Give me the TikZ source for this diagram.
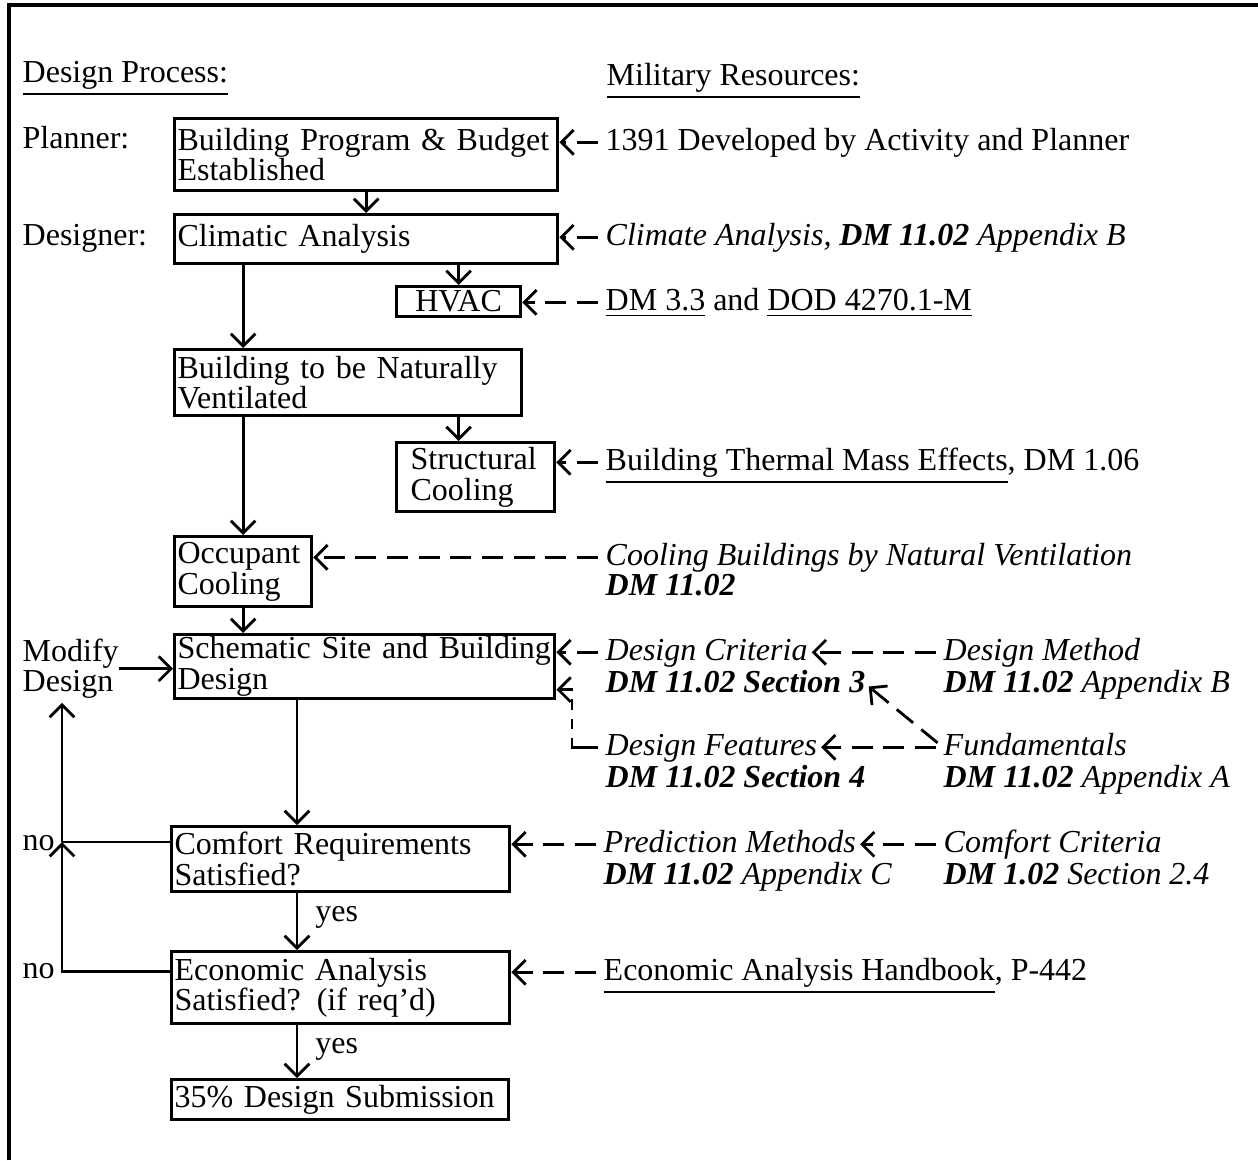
\documentclass[tikz,border=0pt]{standalone}
\usepackage{fontspec}
\setmainfont{Liberation Serif}
\usetikzlibrary{arrows.meta}
\tikzset{
  every node/.style={font=\fontsize{9.1pt}{8.7pt}\selectfont},
  box/.style={draw, line width=0.9pt, anchor=north west, align=left, inner xsep=0.03cm, inner ysep=0pt},
  res/.style={anchor=base west, inner sep=0pt, text height=6.3pt, text depth=1.9pt},
  lbl/.style={anchor=base west, inner sep=0pt},
  arrow/.style={-{Straight Barb[length=3.5pt,width=7pt]}, line width=0.8pt},
  refarrow/.style={arrow, dash pattern=on 6pt off 3pt, shorten <=2pt}
}

\begin{document}
\begin{tikzpicture}[x=0.01cm, y=-0.01cm]
\useasboundingbox (0,0) rectangle (1258,1160);
% frame
\draw[line width=1pt] (9,1160) -- (9,5) -- (1258,5);

% 1. Headings and roles
\node[lbl] (hdproc) at (22,82) {\underline{Design Process:}};
\node[lbl] (hdmil) at (606,85) {\underline{Military Resources:}};
\node[lbl] (planner) at (22,148) {Planner:};
\node[lbl] (designer) at (22,245) {Designer:};
\node[lbl, anchor=north west, align=left] (modify) at (22,638) {Modify\\Design};
\node[lbl] (no1) at (22,850) {no};
\node[lbl] (no2) at (22,978) {no};

% 2. Design process chain
\node[box, text width=3.77cm, minimum height=0.72cm] (budget) at (173,117) {Building Program \& Budget\\Established};
\node[box, text width=3.77cm, minimum height=0.49cm] (clim) at (173,213) {Climatic Analysis};
\node[box, align=center, minimum width=1.24cm, minimum height=0.30cm] (hvac) at (395,285) {HVAC};
\node[box, text width=3.41cm, minimum height=0.66cm] (natvent) at (173,348) {Building to be Naturally\\Ventilated};
\node[box, inner xsep=0.14cm, text width=1.30cm, minimum height=0.69cm] (struct) at (395,441) {Structural\\Cooling};
\node[box, text width=1.31cm, minimum height=0.70cm] (occ) at (173,535) {Occupant\\Cooling};
\node[box, text width=3.74cm, minimum height=0.64cm] (sched) at (173,633) {\mbox{Schematic Site and Building}\\Design};
\node[box, text width=3.32cm, minimum height=0.65cm] (comfort) at (170,825) {Comfort Requirements\\Satisfied?};
\node[box, text width=3.32cm, minimum height=0.72cm] (econ) at (170,950) {Economic Analysis\\Satisfied? (if req'd)};
\node[box, text width=3.31cm, minimum height=0.40cm] (submit) at (170,1078) {35\% Design Submission};

% 3. Military resources
\node[res] (r1) at (605,150) {1391 Developed by Activity and Planner};
\node[res] (r2) at (605,245) {\textit{Climate Analysis, \textbf{DM 11.02} Appendix B}};
\node[res] (r3) at (605,310) {\underline{DM 3.3} and \underline{DOD 4270.1-M}};
\node[res] (r4) at (605,470) {\underline{Building Thermal Mass Effects}, DM 1.06};
\node[res] (r5) at (605,565) {\textit{Cooling Buildings by Natural Ventilation}};
\node[res] (r5b) at (605,595) {\textit{\textbf{DM 11.02}}};
\node[res] (r6) at (605,660) {\textit{Design Criteria}};
\node[res] (r6b) at (605,692) {\textit{\textbf{DM 11.02 Section 3}}};
\node[res] (r7) at (605,755) {\textit{Design Features}};
\node[res] (r7b) at (605,787) {\textit{\textbf{DM 11.02 Section 4}}};
\node[res] (r8) at (943,660) {\textit{Design Method}};
\node[res] (r8b) at (943,692) {\textit{\textbf{DM 11.02} Appendix B}};
\node[res] (r9) at (943,755) {\textit{Fundamentals}};
\node[res] (r9b) at (943,787) {\textit{\textbf{DM 11.02} Appendix A}};
\node[res] (r10) at (603,852) {\textit{Prediction Methods}};
\node[res] (r10b) at (603,884) {\textit{\textbf{DM 11.02} Appendix C}};
\node[res] (r11) at (943,852) {\textit{Comfort Criteria}};
\node[res] (r11b) at (943,884) {\textit{\textbf{DM 1.02} Section 2.4}};
\node[res] (r12) at (603,980) {\underline{Economic Analysis Handbook}, P-442};

% 4. Process connections
\coordinate (spine) at (297,0);
\coordinate (loop) at (62,842);
\draw[arrow] (budget.south) -- (clim.north);
\draw[arrow] (clim.south -| hvac.north) -- (hvac.north);
\draw[arrow] (clim.south -| occ.north) -- (natvent.north -| occ.north);
\draw[arrow] (natvent.south -| hvac.north) -- (struct.north -| hvac.north);
\draw[arrow] (natvent.south -| occ.north) -- (occ.north);
\draw[arrow] (occ.south) -- (occ.south |- sched.north);
\draw[arrow] (modify.east) -- (modify.east -| sched.west);
\draw[arrow] (sched.south -| spine) -- (comfort.north -| spine);
\draw[arrow] (comfort.south -| spine) -- node[pos=0, anchor=north west, xshift=1.5pt] (yes1) {yes} (econ.north -| spine);
\draw[arrow] (econ.south -| spine) -- node[pos=0, anchor=north west, xshift=1.5pt] (yes2) {yes} (submit.north -| spine);

% loop back to modify design
\draw[line width=0.8pt] (comfort.west |- loop) -- (loop);
\draw[arrow] ([yshift=0.16cm]econ.west) -| (loop);
\draw[arrow, shorten >=1pt] (loop) -- (loop |- modify.south);

% 5. Resource connections
\draw[refarrow] (r1.west) -- (budget.east |- r1.west);
\draw[refarrow] (r2.west) -- (clim.east |- r2.west);
\draw[refarrow] (r3.west) -- (hvac.east |- r3.west);
\draw[refarrow] (r4.west) -- (struct.east |- r4.west);
\draw[refarrow] (r5.west) -- (occ.east |- r5.west);
\draw[refarrow] (r6.west) -- (sched.east |- r6.west);
\draw[refarrow, dash pattern=on 10pt off 2.5pt on 3pt off 2.5pt on 3pt off 2.5pt on 20pt] (r7.west) -- ++(-33,0) |- ([yshift=-0.23cm]sched.east);
\draw[refarrow, shorten >=1pt] (r8.west) -- (r6.east);
\draw[refarrow, shorten >=1pt] (r9.west) -- (r7.east);
\draw[refarrow, shorten >=1pt] (r9.west) -- (r6b.east);
\draw[refarrow] (r10.west) -- (comfort.east |- r10.west);
\draw[refarrow, shorten >=1pt] (r11.west) -- (r10.east);
\draw[refarrow] (r12.west) -- (econ.east |- r12.west);

\end{tikzpicture}
\end{document}
